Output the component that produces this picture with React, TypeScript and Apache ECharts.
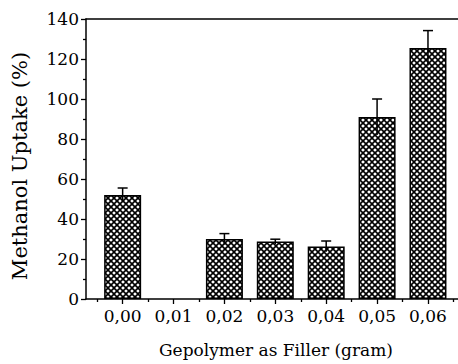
import React, { useEffect, useRef } from "react";
import * as echarts from "echarts";

const fillerGrams = [0.0, 0.01, 0.02, 0.03, 0.04, 0.05, 0.06];
const uptakePct = [52, 0, 30, 28.7, 26.3, 91, 125.5];
const uptakeErr = [3.5, 0, 2.7, 1.2, 2.7, 9, 8.7];
const minorTickValues = [-0.005, 0.005, 0.015, 0.025, 0.035, 0.045, 0.055, 0.065];
const xTitle = "Gepolymer as Filler (gram)";
const yTitle = "Methanol Uptake (%)";

const FONT = "DejaVu Serif";

function makeHatch(): HTMLCanvasElement {
  const s = 6;
  const c = document.createElement("canvas");
  c.width = s;
  c.height = s;
  const ctx = c.getContext("2d")!;
  ctx.fillStyle = "#fff";
  ctx.fillRect(0, 0, s, s);
  ctx.strokeStyle = "#000";
  ctx.lineWidth = 1.6;
  for (const off of [-s, 0, s]) {
    ctx.beginPath();
    ctx.moveTo(off, 0);
    ctx.lineTo(off + s, s);
    ctx.stroke();
    ctx.beginPath();
    ctx.moveTo(off + s, 0);
    ctx.lineTo(off, s);
    ctx.stroke();
  }
  return c;
}

export default function App() {
  const ref = useRef<HTMLDivElement>(null);
  useEffect(() => {
    document.body.style.margin = "0";
    const chart = echarts.init(ref.current!, null, { renderer: "svg" });
    const hatch = makeHatch();
    const xMin = -0.0072;
    const xMax = 0.0659;
    const axisBase = {
      type: "value" as const,
      min: xMin,
      max: xMax,
      splitLine: { show: false },
    };
    chart.setOption({
      animation: false,
      textStyle: { fontFamily: FONT },
      grid: { left: 86, right: 0, top: 19, bottom: 65 },
      xAxis: [
        {
          ...axisBase,
          position: "bottom",
          axisLine: { show: true, onZero: false, lineStyle: { color: "#000", width: 1.5 } },
          axisTick: {
            show: true,
            inside: false,
            length: 5,
            customValues: fillerGrams,
            lineStyle: { color: "#000", width: 1.3 },
          },
          axisLabel: {
            show: true,
            customValues: fillerGrams,
            margin: 8,
            color: "#000",
            fontSize: 17,
            fontFamily: FONT,
            formatter: (v: number) => v.toFixed(2).replace(".", ","),
          },
        },
        {
          ...axisBase,
          position: "bottom",
          axisLine: { show: false, onZero: false },
          axisTick: {
            show: true,
            inside: false,
            length: 3,
            customValues: minorTickValues,
            lineStyle: { color: "#000", width: 1.3 },
          },
          axisLabel: { show: false },
        },
        {
          ...axisBase,
          position: "top",
          axisLine: { show: true, onZero: false, lineStyle: { color: "#000", width: 1.5 } },
          axisTick: { show: false },
          axisLabel: { show: false },
        },
      ],
      yAxis: {
        type: "value",
        min: 0,
        max: 140,
        interval: 20,
        splitLine: { show: false },
        axisLine: { show: true, onZero: false, lineStyle: { color: "#000", width: 1.5 } },
        axisTick: { show: true, inside: false, length: 5, lineStyle: { color: "#000", width: 1.3 } },
        minorTick: { show: true, splitNumber: 2, length: 3, lineStyle: { color: "#000", width: 1.3 } },
        axisLabel: { color: "#000", fontSize: 17, fontFamily: FONT, margin: 7 },
      },
      graphic: [
        {
          type: "text",
          x: 20,
          y: 166,
          rotation: Math.PI / 2,
          style: {
            text: yTitle,
            font: "21px DejaVu Serif",
            fill: "#000",
            align: "center",
            verticalAlign: "middle",
          },
        },
        {
          type: "text",
          x: 276,
          y: 350,
          style: {
            text: xTitle,
            font: "17px DejaVu Serif",
            fill: "#000",
            align: "center",
            verticalAlign: "middle",
          },
        },
      ],
      series: [
        {
          type: "bar",
          xAxisIndex: 0,
          yAxisIndex: 0,
          barWidth: 37,
          data: fillerGrams.map((x, i) => [x, uptakePct[i] === 0 ? "-" : uptakePct[i]]),
          itemStyle: {
            color: { image: hatch, repeat: "repeat", imageWidth: 6, imageHeight: 6 } as any,
            borderColor: "#000",
            borderWidth: 1.5,
          },
        },
        {
          type: "custom",
          xAxisIndex: 0,
          yAxisIndex: 0,
          z: 5,
          data: fillerGrams.map((x, i) => [x, uptakePct[i], uptakeErr[i]]),
          renderItem: (params: any, api: any) => {
            const x = api.value(0);
            const v = api.value(1);
            const e = api.value(2);
            if (!e) return null;
            const top = api.coord([x, v + e]);
            const bot = api.coord([x, v - e]);
            const st = { stroke: "#000", lineWidth: 1.5 };
            return {
              type: "group",
              children: [
                { type: "line", shape: { x1: top[0], y1: top[1], x2: bot[0], y2: bot[1] }, style: st },
                { type: "line", shape: { x1: top[0] - 5, y1: top[1], x2: top[0] + 5, y2: top[1] }, style: st },
              ],
            };
          },
        },
      ],
    });
    return () => chart.dispose();
  }, []);
  return <div ref={ref} style={{ width: 458, height: 364 }} />;
}
